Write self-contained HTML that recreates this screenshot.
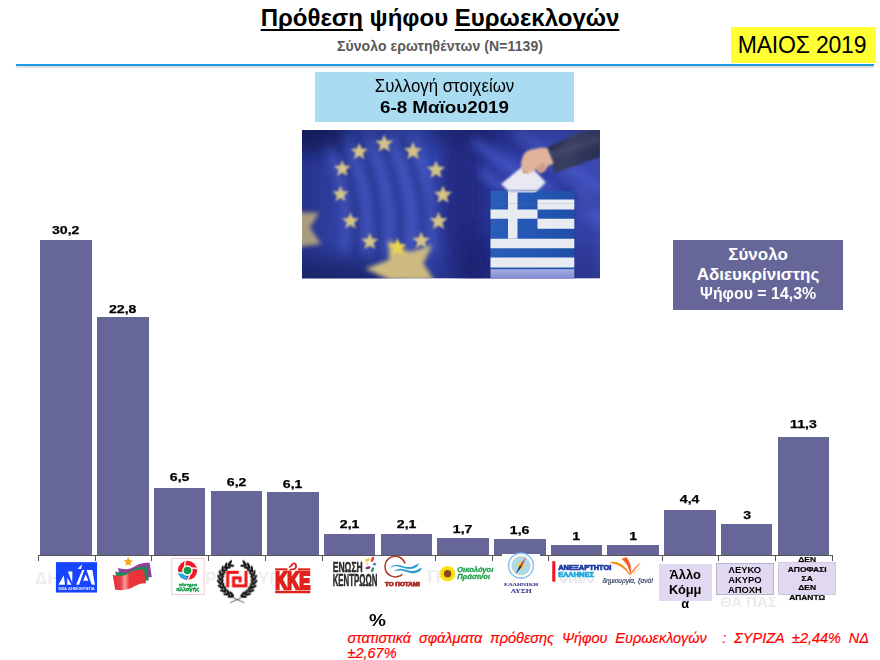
<!DOCTYPE html>
<html><head><meta charset="utf-8">
<style>
html,body{margin:0;padding:0;background:#fff;}
body{width:880px;height:660px;position:relative;overflow:hidden;font-family:"Liberation Sans",sans-serif;color:#000;}
.abs{position:absolute;}
.bar{position:absolute;background:#666699;}
.val{position:absolute;width:60px;text-align:center;font-weight:bold;font-size:11px;line-height:14px;-webkit-text-stroke:0.25px #000;}
.val span{display:inline-block;transform:scaleX(1.28);}
.tick{position:absolute;top:555px;width:1px;height:6px;background:#555;}
#title{left:0;width:880px;top:4px;text-align:center;font-weight:bold;font-size:24px;line-height:28px;}
#title u{text-decoration-thickness:2px;text-underline-offset:3px;text-decoration-skip-ink:none;}
#sub{left:0;width:880px;top:37.7px;text-align:center;font-weight:bold;font-size:14px;line-height:16px;color:#595959;letter-spacing:0.1px;}
#hr{left:16px;top:64px;width:858px;height:2px;background:#1e9ee0;box-shadow:0 1.5px 2px rgba(0,0,0,.2);}
#may{left:730.5px;top:27px;width:145.5px;height:35.5px;background:#ffff33;}
#maytxt{left:737.7px;top:28px;width:145.5px;height:35.5px;line-height:35.5px;text-align:left;font-size:23px;letter-spacing:-0.2px;white-space:nowrap;}
#coll{left:315px;top:71.5px;width:259px;height:50px;background:#a9dcf1;text-align:center;}
#coll .l1{font-size:18px;line-height:19px;margin-top:5.5px;transform:scaleX(0.935);}
#coll .l2{font-size:16px;line-height:19px;font-weight:bold;transform:scaleX(1.175);margin-top:1.5px;}
#pbox{left:673px;top:240px;width:170px;height:70px;background:#666699;color:#fff;text-align:center;font-weight:bold;font-size:17px;line-height:19.5px;}
#axis{left:38px;top:555px;width:795px;height:1px;background:#555;}
#pct{left:368.5px;top:611.5px;font-weight:bold;font-size:17px;line-height:18px;transform:scaleX(1.12);transform-origin:left;}
#foot{left:347.5px;top:631.2px;width:521.5px;font-style:italic;font-size:14.5px;line-height:15px;color:#ff0000;-webkit-text-stroke:0.2px #ff0000;}
#foot .j{text-align:justify;text-align-last:justify;white-space:nowrap;}
.ghost{font-size:17px;font-weight:bold;color:#eeeeee;line-height:20px;filter:blur(0.6px);}
.lbl1{font-weight:bold;font-size:12px;line-height:14.8px;text-align:center;}
.lbl2{font-weight:bold;font-size:8.8px;line-height:10px;text-align:center;}
.lbl3{font-weight:bold;font-size:7px;line-height:9.3px;text-align:center;-webkit-text-stroke:0.2px #000;}
.lbl3 span{display:inline-block;transform:scaleX(1.2);}
.lbl1 span{display:inline-block;transform:scaleX(1.07);}
.lbl2 span{display:inline-block;transform:scaleX(1.07);}
</style></head><body>
<div id="title" class="abs"><u>Πρόθεση</u> ψήφου <u>Ευρωεκλογών</u></div>
<div id="sub" class="abs">Σύνολο ερωτηθέντων (N=1139)</div>
<div id="hr" class="abs"></div>
<div id="may" class="abs"></div>
<div id="maytxt" class="abs">ΜΑΙΟΣ 2019</div>
<div id="coll" class="abs"><div class="l1">Συλλογή στοιχείων</div><div class="l2">6-8 Μαϊου2019</div></div>
<svg class="abs" style="left:301.5px;top:130px" width="298" height="148.5" viewBox="0 0 298 148.5">
<defs>
<linearGradient id="bg" x1="0" y1="0" x2="1" y2="0">
<stop offset="0" stop-color="#28348c"/><stop offset="0.12" stop-color="#2f3fa2"/><stop offset="0.4" stop-color="#3549b2"/><stop offset="0.6" stop-color="#2b389c"/><stop offset="0.8" stop-color="#3848b2"/><stop offset="1" stop-color="#3c48b0"/>
</linearGradient>
<linearGradient id="dk" x1="0" y1="0" x2="0" y2="1">
<stop offset="0" stop-color="#141a55" stop-opacity="0.25"/><stop offset="0.2" stop-color="#141a55" stop-opacity="0"/><stop offset="0.75" stop-color="#141a55" stop-opacity="0"/><stop offset="1" stop-color="#141a55" stop-opacity="0.3"/>
</linearGradient>
<linearGradient id="boxb" x1="0" y1="0" x2="1" y2="0">
<stop offset="0" stop-color="#2a5cb8"/><stop offset="0.5" stop-color="#2458b4"/><stop offset="1" stop-color="#1f4fa8"/>
</linearGradient>
<linearGradient id="refl" x1="0" y1="0" x2="0" y2="1">
<stop offset="0" stop-color="#a4aee2"/><stop offset="1" stop-color="#8088d0"/>
</linearGradient>
<linearGradient id="slv" x1="0" y1="0" x2="1" y2="0.3">
<stop offset="0" stop-color="#23284a"/><stop offset="0.5" stop-color="#3a4060"/><stop offset="1" stop-color="#2a2f55"/>
</linearGradient>
<filter id="b1" x="-20%" y="-20%" width="140%" height="140%"><feGaussianBlur stdDeviation="0.9"/></filter>
<filter id="b2" x="-20%" y="-20%" width="140%" height="140%"><feGaussianBlur stdDeviation="2.2"/></filter>
<filter id="b4" x="-30%" y="-30%" width="160%" height="160%"><feGaussianBlur stdDeviation="4"/></filter>
<filter id="b8" x="-200%" y="-200%" width="500%" height="500%"><feGaussianBlur stdDeviation="8"/></filter>
<clipPath id="cp"><rect x="0" y="0" width="298" height="148.5"/></clipPath>
</defs>
<g clip-path="url(#cp)">
<rect width="298" height="148.5" fill="url(#bg)"/>
<g filter="url(#b4)" opacity="0.55">
<path d="M22,5 C35,40 48,70 42,125" stroke="#5568d0" stroke-width="7" fill="none"/>
<path d="M44,5 C57,40 70,70 64,125" stroke="#5568d0" stroke-width="7" fill="none"/>
<path d="M66,5 C79,40 92,70 86,125" stroke="#5568d0" stroke-width="7" fill="none"/>
<path d="M88,5 C101,40 114,70 108,125" stroke="#5568d0" stroke-width="7" fill="none"/>
<path d="M110,5 C123,40 136,70 130,125" stroke="#5568d0" stroke-width="7" fill="none"/>
<path d="M33,5 C46,40 59,70 53,125" stroke="#1c2674" stroke-width="6" fill="none"/>
<path d="M55,5 C68,40 81,70 75,125" stroke="#1c2674" stroke-width="6" fill="none"/>
<path d="M77,5 C90,40 103,70 97,125" stroke="#1c2674" stroke-width="6" fill="none"/>
<path d="M99,5 C112,40 125,70 119,125" stroke="#1c2674" stroke-width="6" fill="none"/>
</g>
<ellipse cx="165" cy="-5" rx="40" ry="22" fill="#1a2268" filter="url(#b8)" opacity="0.6"/>
<ellipse cx="5" cy="2" rx="40" ry="20" fill="#0e1450" filter="url(#b8)" opacity="0.75"/>
<ellipse cx="30" cy="152" rx="60" ry="22" fill="#182060" filter="url(#b8)" opacity="0.6"/>
<ellipse cx="160" cy="70" rx="22" ry="80" fill="#20287a" filter="url(#b8)" opacity="0.8"/>
<g filter="url(#b4)" opacity="0.7">
<path d="M170,10 L260,75" stroke="#4c5ed0" stroke-width="9"/>
<path d="M178,40 L215,70" stroke="#4658c8" stroke-width="9"/>
<path d="M215,0 L300,60" stroke="#4a5ccc" stroke-width="9"/>
<path d="M272,62 L300,95" stroke="#5060cc" stroke-width="12"/>
<path d="M190,0 L290,80" stroke="#222c88" stroke-width="6"/>
</g>
<ellipse cx="284" cy="120" rx="8" ry="30" fill="#262e88" filter="url(#b8)" opacity="0.6"/>
<ellipse cx="175" cy="130" rx="14" ry="30" fill="#1c2272" filter="url(#b8)" opacity="0.8"/>
<rect width="298" height="148.5" fill="url(#dk)"/>
<g filter="url(#b2)">
<polygon points="-4,82 17,83 8,97.5 19,114 -4,117" fill="#bfae7c" opacity="0.85"/>
<polygon points="63.3,138.8 87.1,129.8 86.3,109.7 107.6,122.1 130.6,114.8 121.2,133.2 132,150 88,150" fill="#cdbb80"/>
</g>
<g filter="url(#b1)" fill="#d6c486">
<polygon points="82.2,4.2 84.7,10.4 91.3,10.8 86.2,15.0 87.8,21.4 82.2,17.9 76.7,21.4 78.3,15.0 73.2,10.8 79.8,10.4"/>
<polygon points="57.2,12.8 59.6,18.5 65.8,19.0 61.0,23.0 62.5,29.0 57.2,25.7 52.0,29.0 53.5,23.0 48.7,19.0 54.9,18.5"/>
<polygon points="40.2,29.9 42.5,35.6 48.6,36.0 43.9,39.9 45.4,45.9 40.2,42.6 35.1,45.9 36.6,39.9 31.9,36.0 38.0,35.6"/>
<polygon points="38.5,55.8 40.7,61.2 46.6,61.6 42.1,65.4 43.5,71.1 38.5,68.0 33.5,71.1 34.9,65.4 30.4,61.6 36.3,61.2"/>
<polygon points="48.5,82.5 50.8,88.1 56.9,88.5 52.2,92.4 53.7,98.4 48.5,95.1 43.3,98.4 44.8,92.4 40.1,88.5 46.2,88.1"/>
<polygon points="67.8,102.8 70.1,108.5 76.3,109.0 71.5,113.0 73.0,119.0 67.8,115.7 62.5,119.0 64.0,113.0 59.2,109.0 65.4,108.5"/>
<polygon points="119.2,101.5 121.7,107.4 128.1,107.9 123.1,112.0 124.7,118.3 119.2,114.8 113.8,118.3 115.4,112.0 110.4,107.9 116.8,107.4"/>
<polygon points="136.5,81.8 139.0,87.9 145.5,88.3 140.5,92.5 142.1,98.9 136.5,95.4 130.9,98.9 132.5,92.5 127.5,88.3 134.0,87.9"/>
<polygon points="141.0,55.5 143.5,61.6 150.0,62.1 145.0,66.3 146.6,72.7 141.0,69.2 135.4,72.7 137.0,66.3 132.0,62.1 138.5,61.6"/>
<polygon points="134.0,30.5 136.5,36.6 143.0,37.1 138.0,41.3 139.6,47.7 134.0,44.2 128.4,47.7 130.0,41.3 125.0,37.1 131.5,36.6"/>
<polygon points="111.0,11.8 113.5,17.9 120.0,18.3 115.0,22.5 116.6,28.9 111.0,25.4 105.4,28.9 107.0,22.5 102.0,18.3 108.5,17.9"/>
</g>
<polygon points="95.5,108.0 98.0,114.1 104.5,114.6 99.5,118.8 101.1,125.2 95.5,121.7 89.9,125.2 91.5,118.8 86.5,114.6 93.0,114.1" fill="#ead54e" filter="url(#b1)"/>
<rect x="186.5" y="60" width="86.80000000000001" height="92" fill="#1a2270" opacity="0.35" filter="url(#b2)"/>
<rect x="188.5" y="60.75" width="83.80000000000001" height="79" fill="url(#boxb)"/>
<rect x="235.5" y="69.5" width="36.80000000000001" height="10" fill="#e9ebf3"/>
<rect x="235.5" y="88.75" width="36.80000000000001" height="10" fill="#e9ebf3"/>
<rect x="188.5" y="108.75" width="83.80000000000001" height="9.5" fill="#e9ebf3"/>
<rect x="188.5" y="127.5" width="83.80000000000001" height="10" fill="#e9ebf3"/>
<rect x="206" y="60.75" width="9.5" height="48" fill="#e9ebf3"/>
<rect x="188.5" y="79.5" width="47" height="9.25" fill="#e9ebf3"/>
<rect x="188.5" y="73" width="83.80000000000001" height="0.8" fill="#7080b0" opacity="0.25"/>
<rect x="188.5" y="139" width="83.80000000000001" height="10" fill="url(#refl)"/>
<rect x="188.5" y="138" width="83.80000000000001" height="1.2" fill="#2050a8"/>
<polygon points="199.1,53.9 225.4,32.6 243.8,52.5 235.3,60.8 206.2,60.8" fill="#e8e9f2" filter="url(#b1)"/>
<polygon points="206.2,60.8 235.3,60.8 233,62.5 207.5,62.5" fill="#c0c6de"/>
<polygon points="244.6,17.7 277.9,2.1 287.9,0 298,0 298,27 252.4,43.3" fill="url(#slv)" filter="url(#b1)"/>
<polygon points="246,22 298,4 298,12 249,30" fill="#4a5070" opacity="0.5" filter="url(#b2)"/>
<path d="M219,32.6 L221.1,25.5 C223,22 225,20.5 227.5,19.9 L238.2,17.7 L245.3,18 L251.7,33.4 L245.3,36.2 C244,39 243.5,40 242.4,40.5 C241,42 239.5,42.6 238.2,42.6 L233.9,39 C231,41 229,43.3 226.8,43.3 L221.1,43.3 C219.5,41 219.2,39 219.7,37.6 Z" fill="#e0b49c" filter="url(#b1)"/>
<path d="M233.9,39 L238.2,42.6 C240,42.6 242,41 242.4,40.5 L245.3,36.2 L240,33 Z" fill="#d49a86" filter="url(#b1)"/>
<path d="M221,38 L226.8,43.3 L221.1,43.3 Z" fill="#d8a890"/>
</g></svg>
<div id="pbox" class="abs"><div style="margin-top:5.3px">Σύνολο<br>Αδιευκρίνιστης<br><span style="display:inline-block;transform:scaleX(0.935)">Ψήφου = 14,3%</span></div></div>
<div class="bar" style="left:40.4px;top:239.9px;width:51.5px;height:315.6px"></div>
<div class="val" style="left:36.2px;top:222.7px"><span>30,2</span></div>
<div class="bar" style="left:97.1px;top:317.2px;width:51.5px;height:238.3px"></div>
<div class="val" style="left:92.8px;top:301.7px"><span>22,8</span></div>
<div class="bar" style="left:153.8px;top:487.6px;width:51.5px;height:67.9px"></div>
<div class="val" style="left:149.6px;top:470.4px"><span>6,5</span></div>
<div class="bar" style="left:210.5px;top:490.7px;width:51.5px;height:64.8px"></div>
<div class="val" style="left:206.3px;top:475.0px"><span>6,2</span></div>
<div class="bar" style="left:267.2px;top:491.8px;width:51.5px;height:63.7px"></div>
<div class="val" style="left:262.9px;top:477.1px"><span>6,1</span></div>
<div class="bar" style="left:323.9px;top:533.6px;width:51.5px;height:21.9px"></div>
<div class="val" style="left:319.6px;top:517.4px"><span>2,1</span></div>
<div class="bar" style="left:380.6px;top:533.6px;width:51.5px;height:21.9px"></div>
<div class="val" style="left:376.4px;top:517.4px"><span>2,1</span></div>
<div class="bar" style="left:437.3px;top:537.7px;width:51.5px;height:17.8px"></div>
<div class="val" style="left:433.1px;top:521.5px"><span>1,7</span></div>
<div class="bar" style="left:494.0px;top:538.8px;width:51.5px;height:16.7px"></div>
<div class="val" style="left:489.8px;top:522.6px"><span>1,6</span></div>
<div class="bar" style="left:550.7px;top:545.0px;width:51.5px;height:10.4px"></div>
<div class="val" style="left:546.5px;top:528.8px"><span>1</span></div>
<div class="bar" style="left:607.4px;top:545.0px;width:51.5px;height:10.4px"></div>
<div class="val" style="left:603.1px;top:528.8px"><span>1</span></div>
<div class="bar" style="left:664.1px;top:509.5px;width:51.5px;height:46.0px"></div>
<div class="val" style="left:659.9px;top:492.3px"><span>4,4</span></div>
<div class="bar" style="left:720.8px;top:524.1px;width:51.5px;height:31.3px"></div>
<div class="val" style="left:716.6px;top:508.4px"><span>3</span></div>
<div class="bar" style="left:777.5px;top:437.4px;width:51.5px;height:118.1px"></div>
<div class="val" style="left:773.2px;top:416.7px"><span>11,3</span></div>
<div id="axis" class="abs"></div>
<div class="tick" style="left:38.0px"></div>
<div class="tick" style="left:94.7px"></div>
<div class="tick" style="left:151.4px"></div>
<div class="tick" style="left:208.1px"></div>
<div class="tick" style="left:264.8px"></div>
<div class="tick" style="left:321.5px"></div>
<div class="tick" style="left:378.2px"></div>
<div class="tick" style="left:434.9px"></div>
<div class="tick" style="left:491.6px"></div>
<div class="tick" style="left:548.3px"></div>
<div class="tick" style="left:605.0px"></div>
<div class="tick" style="left:661.7px"></div>
<div class="tick" style="left:718.4px"></div>
<div class="tick" style="left:775.1px"></div>
<div class="tick" style="left:831.8px"></div>
<div class="abs ghost" style="left:35px;top:569px;">ΔΗ</div>
<div class="abs ghost" style="left:205px;top:569px;">ΡΥ</div>
<div class="abs ghost" style="left:258px;top:569px;">ΥΓ</div>
<div class="abs ghost" style="left:424px;top:567px;font-size:19px">ΤΡ</div>
<div class="abs ghost" style="left:720px;top:592px;font-size:15px;color:#ebebeb">ΘΑ ΠΑΣ</div>
<div class="abs ghost ghost2" style="left:789px;top:594px;font-size:8px;line-height:10px;color:#efefef">ΑΠΑΝΤΩ</div>
<div class="abs" style="left:501.5px;top:553.5px;width:38.5px;height:45px;background:#fff"></div>
<div class="abs" style="left:550px;top:555.5px;width:109px;height:36px;background:#fff"></div>
<div class="abs" style="left:330px;top:556.3px;width:96px;height:34px;background:#fff"></div>
<svg class="abs" style="left:52px;top:558px;overflow:visible" width="50" height="38" viewBox="0 0 50 38" ><g transform="scale(0.0576)"><rect x="68" y="72" width="714" height="528" fill="#1745ff"/><g fill="#fff"><polygon points="112,465 205,300 225,465"/><polygon points="265,345 265,465 338,465"/><polygon points="275,235 355,235 350,430"/><polygon points="445,185 522,108 505,192"/><polygon points="425,445 525,210 560,210 470,465 425,465"/><polygon points="600,210 700,210 745,465 690,465"/><polygon points="540,395 585,285 632,395"/><polygon points="425,440 745,440 745,465 425,465" opacity="0.0"/></g><text x="428" y="558" font-family="Liberation Sans" font-weight="bold" font-size="46" fill="#e8ecff" text-anchor="middle" textLength="630" lengthAdjust="spacingAndGlyphs" filter="url(#lb2)">ΝΕΑ ΔΗΜΟΚΡΑΤΙΑ</text></g></svg>
<svg class="abs" style="left:105px;top:555px;overflow:visible" width="55" height="42" viewBox="0 0 55 42" ><defs><linearGradient id="syr" x1="0" y1="0" x2="1" y2="0"><stop offset="0" stop-color="#e0303a"/><stop offset="0.25" stop-color="#e84048"/><stop offset="0.37" stop-color="#f4a098"/><stop offset="0.5" stop-color="#f03438"/><stop offset="1" stop-color="#e8303c"/></linearGradient><filter id="lb" x="-10%" y="-10%" width="120%" height="120%"><feGaussianBlur stdDeviation="5"/></filter></defs><g transform="scale(0.06365)" filter="url(#lb)"><path d="M205,205 C320,240 400,220 470,175 C550,125 640,120 700,120 L735,350 C660,345 600,360 540,390 L240,400 Z" fill="#8e3f9e"/><path d="M160,260 C280,300 360,280 430,230 C510,180 600,180 655,185 L690,400 C600,395 540,420 470,460 L200,480 Z" fill="#1f8a52"/><path d="M120,310 C250,350 330,320 400,270 C480,225 560,230 610,235 L645,445 C560,440 500,470 430,510 C340,555 250,560 160,545 Z" fill="url(#syr)"/><polygon points="365.0,32.0 387.3,77.3 437.3,84.5 401.1,119.7 409.7,169.5 365.0,146.0 320.3,169.5 328.9,119.7 292.7,84.5 342.7,77.3" fill="#f6a81e"/></g></svg>
<svg class="abs" style="left:165px;top:555px;overflow:visible" width="50" height="43" viewBox="0 0 50 43" ><defs><filter id="lb2" x="-10%" y="-10%" width="120%" height="120%"><feGaussianBlur stdDeviation="4"/></filter><clipPath id="kcp"><circle cx="345" cy="237" r="148"/></clipPath></defs><g transform="scale(0.0652)"><rect x="105" y="50" width="495" height="558" fill="#fff" stroke="#f2b4bc" stroke-width="11"/><g filter="url(#lb2)"><circle cx="345" cy="237" r="148" fill="#f01820"/><g clip-path="url(#kcp)"><path d="M345,237 L180,260 L180,400 L335,400 Z" fill="#27aae1"/><g stroke="#fff" stroke-width="20" fill="none" stroke-linecap="round"><path d="M345,237 C300,200 290,140 325,80"/><path d="M345,237 C390,195 450,190 505,222"/><path d="M345,237 C390,280 385,340 335,395"/><path d="M345,237 C300,285 240,285 185,258"/></g></g><circle cx="345" cy="237" r="80" fill="#fff"/><circle cx="345" cy="237" r="58" fill="#0f9a48"/></g><g filter="url(#lb2)"><text x="352" y="470" font-family="Liberation Sans" font-weight="bold" font-size="62" fill="#0f9a48" text-anchor="middle" textLength="275" lengthAdjust="spacingAndGlyphs" stroke="#0f9a48" stroke-width="5">κίνημα</text><text x="348" y="548" font-family="Liberation Sans" font-weight="bold" font-size="82" fill="#0f9a48" text-anchor="middle" textLength="350" lengthAdjust="spacingAndGlyphs" stroke="#0f9a48" stroke-width="6">αλλαγής</text></g></g></svg>
<svg class="abs" style="left:210px;top:555px;overflow:visible" width="55" height="52" viewBox="0 0 55 52" ><defs><filter id="lb3" x="-10%" y="-10%" width="120%" height="120%"><feGaussianBlur stdDeviation="3.5"/></filter></defs><g transform="scale(0.0788)" filter="url(#lb3)"><g fill="#151515"><ellipse cx="251" cy="102" rx="43" ry="15" transform="rotate(-54 251 102)"/><ellipse cx="265" cy="133" rx="43" ry="15" transform="rotate(6 265 133)"/><ellipse cx="200" cy="133" rx="43" ry="15" transform="rotate(-69 200 133)"/><ellipse cx="222" cy="160" rx="43" ry="15" transform="rotate(-9 222 160)"/><ellipse cx="159" cy="177" rx="43" ry="15" transform="rotate(-84 159 177)"/><ellipse cx="186" cy="197" rx="43" ry="15" transform="rotate(-24 186 197)"/><ellipse cx="130" cy="230" rx="43" ry="15" transform="rotate(-99 130 230)"/><ellipse cx="162" cy="242" rx="43" ry="15" transform="rotate(-39 162 242)"/><ellipse cx="116" cy="288" rx="43" ry="15" transform="rotate(-114 116 288)"/><ellipse cx="150" cy="292" rx="43" ry="15" transform="rotate(-54 150 292)"/><ellipse cx="118" cy="348" rx="43" ry="15" transform="rotate(-129 118 348)"/><ellipse cx="151" cy="343" rx="43" ry="15" transform="rotate(-69 151 343)"/><ellipse cx="135" cy="406" rx="43" ry="15" transform="rotate(-144 135 406)"/><ellipse cx="166" cy="392" rx="43" ry="15" transform="rotate(-84 166 392)"/><ellipse cx="166" cy="457" rx="43" ry="15" transform="rotate(-159 166 457)"/><ellipse cx="193" cy="435" rx="43" ry="15" transform="rotate(-99 193 435)"/><ellipse cx="210" cy="498" rx="43" ry="15" transform="rotate(-174 210 498)"/><ellipse cx="230" cy="471" rx="43" ry="15" transform="rotate(-114 230 471)"/><ellipse cx="263" cy="527" rx="43" ry="15" transform="rotate(-189 263 527)"/><ellipse cx="275" cy="495" rx="43" ry="15" transform="rotate(-129 275 495)"/><ellipse cx="439" cy="102" rx="43" ry="15" transform="rotate(-126 439 102)"/><ellipse cx="425" cy="133" rx="43" ry="15" transform="rotate(-186 425 133)"/><ellipse cx="490" cy="133" rx="43" ry="15" transform="rotate(-111 490 133)"/><ellipse cx="468" cy="160" rx="43" ry="15" transform="rotate(-171 468 160)"/><ellipse cx="531" cy="177" rx="43" ry="15" transform="rotate(-96 531 177)"/><ellipse cx="504" cy="197" rx="43" ry="15" transform="rotate(-156 504 197)"/><ellipse cx="560" cy="230" rx="43" ry="15" transform="rotate(-81 560 230)"/><ellipse cx="528" cy="242" rx="43" ry="15" transform="rotate(-141 528 242)"/><ellipse cx="574" cy="288" rx="43" ry="15" transform="rotate(-66 574 288)"/><ellipse cx="540" cy="292" rx="43" ry="15" transform="rotate(-126 540 292)"/><ellipse cx="572" cy="348" rx="43" ry="15" transform="rotate(-51 572 348)"/><ellipse cx="539" cy="343" rx="43" ry="15" transform="rotate(-111 539 343)"/><ellipse cx="555" cy="406" rx="43" ry="15" transform="rotate(-36 555 406)"/><ellipse cx="524" cy="392" rx="43" ry="15" transform="rotate(-96 524 392)"/><ellipse cx="524" cy="457" rx="43" ry="15" transform="rotate(-21 524 457)"/><ellipse cx="497" cy="435" rx="43" ry="15" transform="rotate(-81 497 435)"/><ellipse cx="480" cy="498" rx="43" ry="15" transform="rotate(-6 480 498)"/><ellipse cx="460" cy="471" rx="43" ry="15" transform="rotate(-66 460 471)"/><ellipse cx="427" cy="527" rx="43" ry="15" transform="rotate(9 427 527)"/><ellipse cx="415" cy="495" rx="43" ry="15" transform="rotate(-51 415 495)"/></g><path d="M215,470 C260,540 340,560 435,605" stroke="#222" stroke-width="9" fill="none"/><path d="M475,470 C430,540 350,560 255,605" stroke="#222" stroke-width="9" fill="none"/><g stroke="#ee1212" stroke-width="38" fill="none" stroke-linejoin="miter"><polyline points="224,410 224,219 365,219"/><polyline points="381,345 381,289 299,289 299,391 456,391 456,200"/></g></g></svg>
<svg class="abs" style="left:268px;top:555px;overflow:visible" width="50" height="45" viewBox="0 0 50 45" ><g transform="scale(0.0682)" filter="url(#lb3)" fill="#e0221c"><rect x="105" y="195" width="180" height="30"/><rect x="440" y="195" width="180" height="30"/><rect x="105" y="525" width="515" height="36"/><text x="105" y="500" font-family="Liberation Sans" font-weight="bold" font-size="349" textLength="515" lengthAdjust="spacingAndGlyphs" stroke="#e0221c" stroke-width="36">KKE</text><path d="M330,150 C360,95 420,100 425,160 C428,200 400,225 350,225 L300,225 L330,200 C370,205 400,190 398,160 C395,130 365,125 345,160 Z"/><rect x="300" y="150" width="70" height="22" transform="rotate(-35 335 160)"/></g></svg>
<svg class="abs" style="left:328px;top:553px;overflow:visible" width="55" height="40" viewBox="0 0 55 40" ><g transform="scale(0.0625)" filter="url(#lb3)"><g font-family="Liberation Sans" font-weight="bold" fill="#2b2b2b" stroke="#2b2b2b" stroke-width="8"><text x="75" y="310" font-size="246" textLength="480" lengthAdjust="spacingAndGlyphs">ΕΝΩΣΗ</text><text x="75" y="530" font-size="250" textLength="715" lengthAdjust="spacingAndGlyphs">ΚΕΝΤΡΩΩΝ</text></g><ellipse cx="632" cy="112" rx="38" ry="24" fill="#f4c430" transform="rotate(-25 632 112)"/><ellipse cx="712" cy="100" rx="22" ry="46" fill="#e8452c" transform="rotate(20 712 100)"/><ellipse cx="745" cy="178" rx="26" ry="22" fill="#3a8fd8"/><ellipse cx="712" cy="268" rx="22" ry="44" fill="#2e9e48" transform="rotate(25 712 268)"/><ellipse cx="640" cy="236" rx="42" ry="22" fill="#7d2e96" transform="rotate(-10 640 236)"/><ellipse cx="622" cy="170" rx="22" ry="26" fill="#f4d8a0" opacity="0.7"/></g></svg>
<svg class="abs" style="left:380px;top:553px;overflow:visible" width="55" height="40" viewBox="0 0 55 40" ><g transform="scale(0.0625)" filter="url(#lb3)"><path d="M398,160 A165,165 0 1 0 300,372 C330,365 345,355 350,345" stroke="#b23a2e" stroke-width="24" fill="none" stroke-linecap="round"/><path d="M155,238 C200,195 270,175 340,200 C410,228 480,235 530,210 C575,190 600,170 622,158 C610,215 560,250 480,255 C420,258 370,235 310,220 C250,205 200,220 155,238 Z" fill="#2e9ad2"/><path d="M218,292 C270,250 330,240 400,265 C470,292 540,295 590,270 C630,250 650,240 672,236 C655,290 600,322 530,325 C470,326 420,300 360,285 C300,272 260,280 218,292 Z" fill="#2e9ad2"/><text x="80" y="524" font-family="Liberation Sans" font-weight="bold" font-size="84" fill="#b2302a" stroke="#b2302a" stroke-width="12" textLength="555" lengthAdjust="spacingAndGlyphs">ΤΟ ΠΟΤΑΜΙ</text></g></svg>
<svg class="abs" style="left:435px;top:553px;overflow:visible" width="65" height="40" viewBox="0 0 65 40" ><g transform="scale(0.07385)" filter="url(#lb3)"><g fill="#f7df12"><ellipse cx="170" cy="208" rx="22" ry="36" transform="rotate(0.0 170 280)"/><ellipse cx="170" cy="208" rx="22" ry="36" transform="rotate(22.5 170 280)"/><ellipse cx="170" cy="208" rx="22" ry="36" transform="rotate(45.0 170 280)"/><ellipse cx="170" cy="208" rx="22" ry="36" transform="rotate(67.5 170 280)"/><ellipse cx="170" cy="208" rx="22" ry="36" transform="rotate(90.0 170 280)"/><ellipse cx="170" cy="208" rx="22" ry="36" transform="rotate(112.5 170 280)"/><ellipse cx="170" cy="208" rx="22" ry="36" transform="rotate(135.0 170 280)"/><ellipse cx="170" cy="208" rx="22" ry="36" transform="rotate(157.5 170 280)"/><ellipse cx="170" cy="208" rx="22" ry="36" transform="rotate(180.0 170 280)"/><ellipse cx="170" cy="208" rx="22" ry="36" transform="rotate(202.5 170 280)"/><ellipse cx="170" cy="208" rx="22" ry="36" transform="rotate(225.0 170 280)"/><ellipse cx="170" cy="208" rx="22" ry="36" transform="rotate(247.5 170 280)"/><ellipse cx="170" cy="208" rx="22" ry="36" transform="rotate(270.0 170 280)"/><ellipse cx="170" cy="208" rx="22" ry="36" transform="rotate(292.5 170 280)"/><ellipse cx="170" cy="208" rx="22" ry="36" transform="rotate(315.0 170 280)"/><ellipse cx="170" cy="208" rx="22" ry="36" transform="rotate(337.5 170 280)"/><circle cx="170" cy="280" r="80"/></g><circle cx="170" cy="280" r="50" fill="#8c4a12"/><g font-family="Liberation Sans" font-weight="bold" font-style="italic" fill="#1fa04a" stroke="#1fa04a" stroke-width="4"><text x="300" y="252" font-size="98" textLength="490" lengthAdjust="spacingAndGlyphs">Οικολόγοι</text><text x="300" y="352" font-size="98" textLength="445" lengthAdjust="spacingAndGlyphs">Πράσινοι</text></g></g></svg>
<svg class="abs" style="left:495px;top:548px;overflow:visible" width="50" height="52" viewBox="0 0 50 52" ><g transform="scale(0.07874)" filter="url(#lb3)"><circle cx="330" cy="225" r="158" fill="#fff" stroke="#8ec6ee" stroke-width="20"/><circle cx="330" cy="225" r="118" fill="#a6daf6" stroke="#d8c890" stroke-width="8"/><polygon points="330,130 343,194 378,177 361,212 425,225 361,238 378,273 343,256 330,320 317,256 282,273 299,238 235,225 299,212 282,177 317,194" fill="#e6d264"/><polygon points="330,225 316,218 262,332 342,234" fill="#1c2a6a"/><polygon points="330,225 320,214 398,105 344,234" fill="#e83a2a"/><g font-family="Liberation Serif" font-weight="bold" fill="#3a3a92" stroke="#3a3a92" stroke-width="1"><text x="115" y="480" font-size="64" textLength="435" lengthAdjust="spacingAndGlyphs">ΕΛΛΗΝΙΚΗ</text><text x="200" y="575" font-size="72" textLength="265" lengthAdjust="spacingAndGlyphs">ΛΥΣΗ</text></g></g></svg>
<svg class="abs" style="left:548px;top:553px;overflow:visible" width="65" height="40" viewBox="0 0 65 40" ><g transform="scale(0.06817)" filter="url(#lb3)"><rect x="62" y="120" width="46" height="300" fill="#f01828"/><g font-family="Liberation Sans" font-weight="bold"><text x="150" y="255" font-size="98" fill="#1e3aa2" stroke="#1e3aa2" stroke-width="10" textLength="780" lengthAdjust="spacingAndGlyphs">ΑΝΕΞΑΡΤΗΤΟΙ</text><text x="150" y="350" font-size="92" fill="#22a8e2" stroke="#22a8e2" stroke-width="10" textLength="525" lengthAdjust="spacingAndGlyphs">ΕΛΛΗΝΕΣ</text><text x="160" y="-372" font-size="100" fill="#e4e4e4" textLength="530" lengthAdjust="spacingAndGlyphs" transform="scale(1,-1)">ΑΝΕΛ</text></g></g></svg>
<svg class="abs" style="left:598px;top:553px;overflow:visible" width="65" height="40" viewBox="0 0 65 40" ><g transform="scale(0.07385)" filter="url(#lb3)"><path d="M172,130 C260,105 370,170 432,298 C380,215 290,150 172,130 Z" fill="#f7941e" stroke="#f7941e" stroke-width="14" stroke-linejoin="round"/><path d="M325,80 L385,62 C430,120 455,200 442,285 C425,200 390,130 325,80 Z" fill="#f15a24" stroke="#f15a24" stroke-width="8" stroke-linejoin="round"/><path d="M568,142 C520,170 470,225 445,288 C485,235 530,190 568,142 Z" fill="#f47a3a" stroke="#f47a3a" stroke-width="8" stroke-linejoin="round"/><path d="M572,200 C535,225 500,250 468,280" stroke="#fbb040" stroke-width="7" fill="none"/><text x="60" y="405" font-family="Liberation Sans" font-style="italic" font-size="92" fill="#3a4a6c" stroke="#3a4a6c" stroke-width="3" textLength="685" lengthAdjust="spacingAndGlyphs">δημιουργία, ξανά!</text></g></svg>
<div class="abs" style="left:658.8px;top:563.5px;width:53px;height:37.7px;background:#e1d9f1"></div>
<div class="abs lbl1" style="left:655.3px;top:567.9px;width:60px;"><span>Άλλο<br>Κόμμ<br>α</span></div>
<div class="abs" style="left:715.5px;top:563.4px;width:58.8px;height:31.8px;background:#e1d9f1;box-sizing:border-box;border:1px solid #b9b2c9"></div>
<div class="abs lbl2" style="left:715.5px;top:564.6px;width:58.8px;"><span>ΛΕΥΚΟ<br>ΑΚΥΡΟ<br>ΑΠΟΧΗ</span></div>
<div class="abs" style="left:778.4px;top:561.6px;width:57.3px;height:33.9px;background:#e1d9f1;box-sizing:border-box;border:1px solid #cfc8de"></div>
<div class="abs lbl3" style="left:777px;top:555.4px;width:60px;"><span>ΔΕΝ<br>ΑΠΟΦΑΣΙ<br>ΣΑ<br>ΔΕΝ<br>ΑΠΑΝΤΩ</span></div>
<div id="pct" class="abs">%</div>
<div id="foot" class="abs"><div class="j" style="white-space:normal">στατιστικά σφάλματα πρόθεσης Ψήφου Ευρωεκλογών &nbsp;: ΣΥΡΙΖΑ ±2,44% ΝΔ</div><div>±2,67%</div></div>
</body></html>
